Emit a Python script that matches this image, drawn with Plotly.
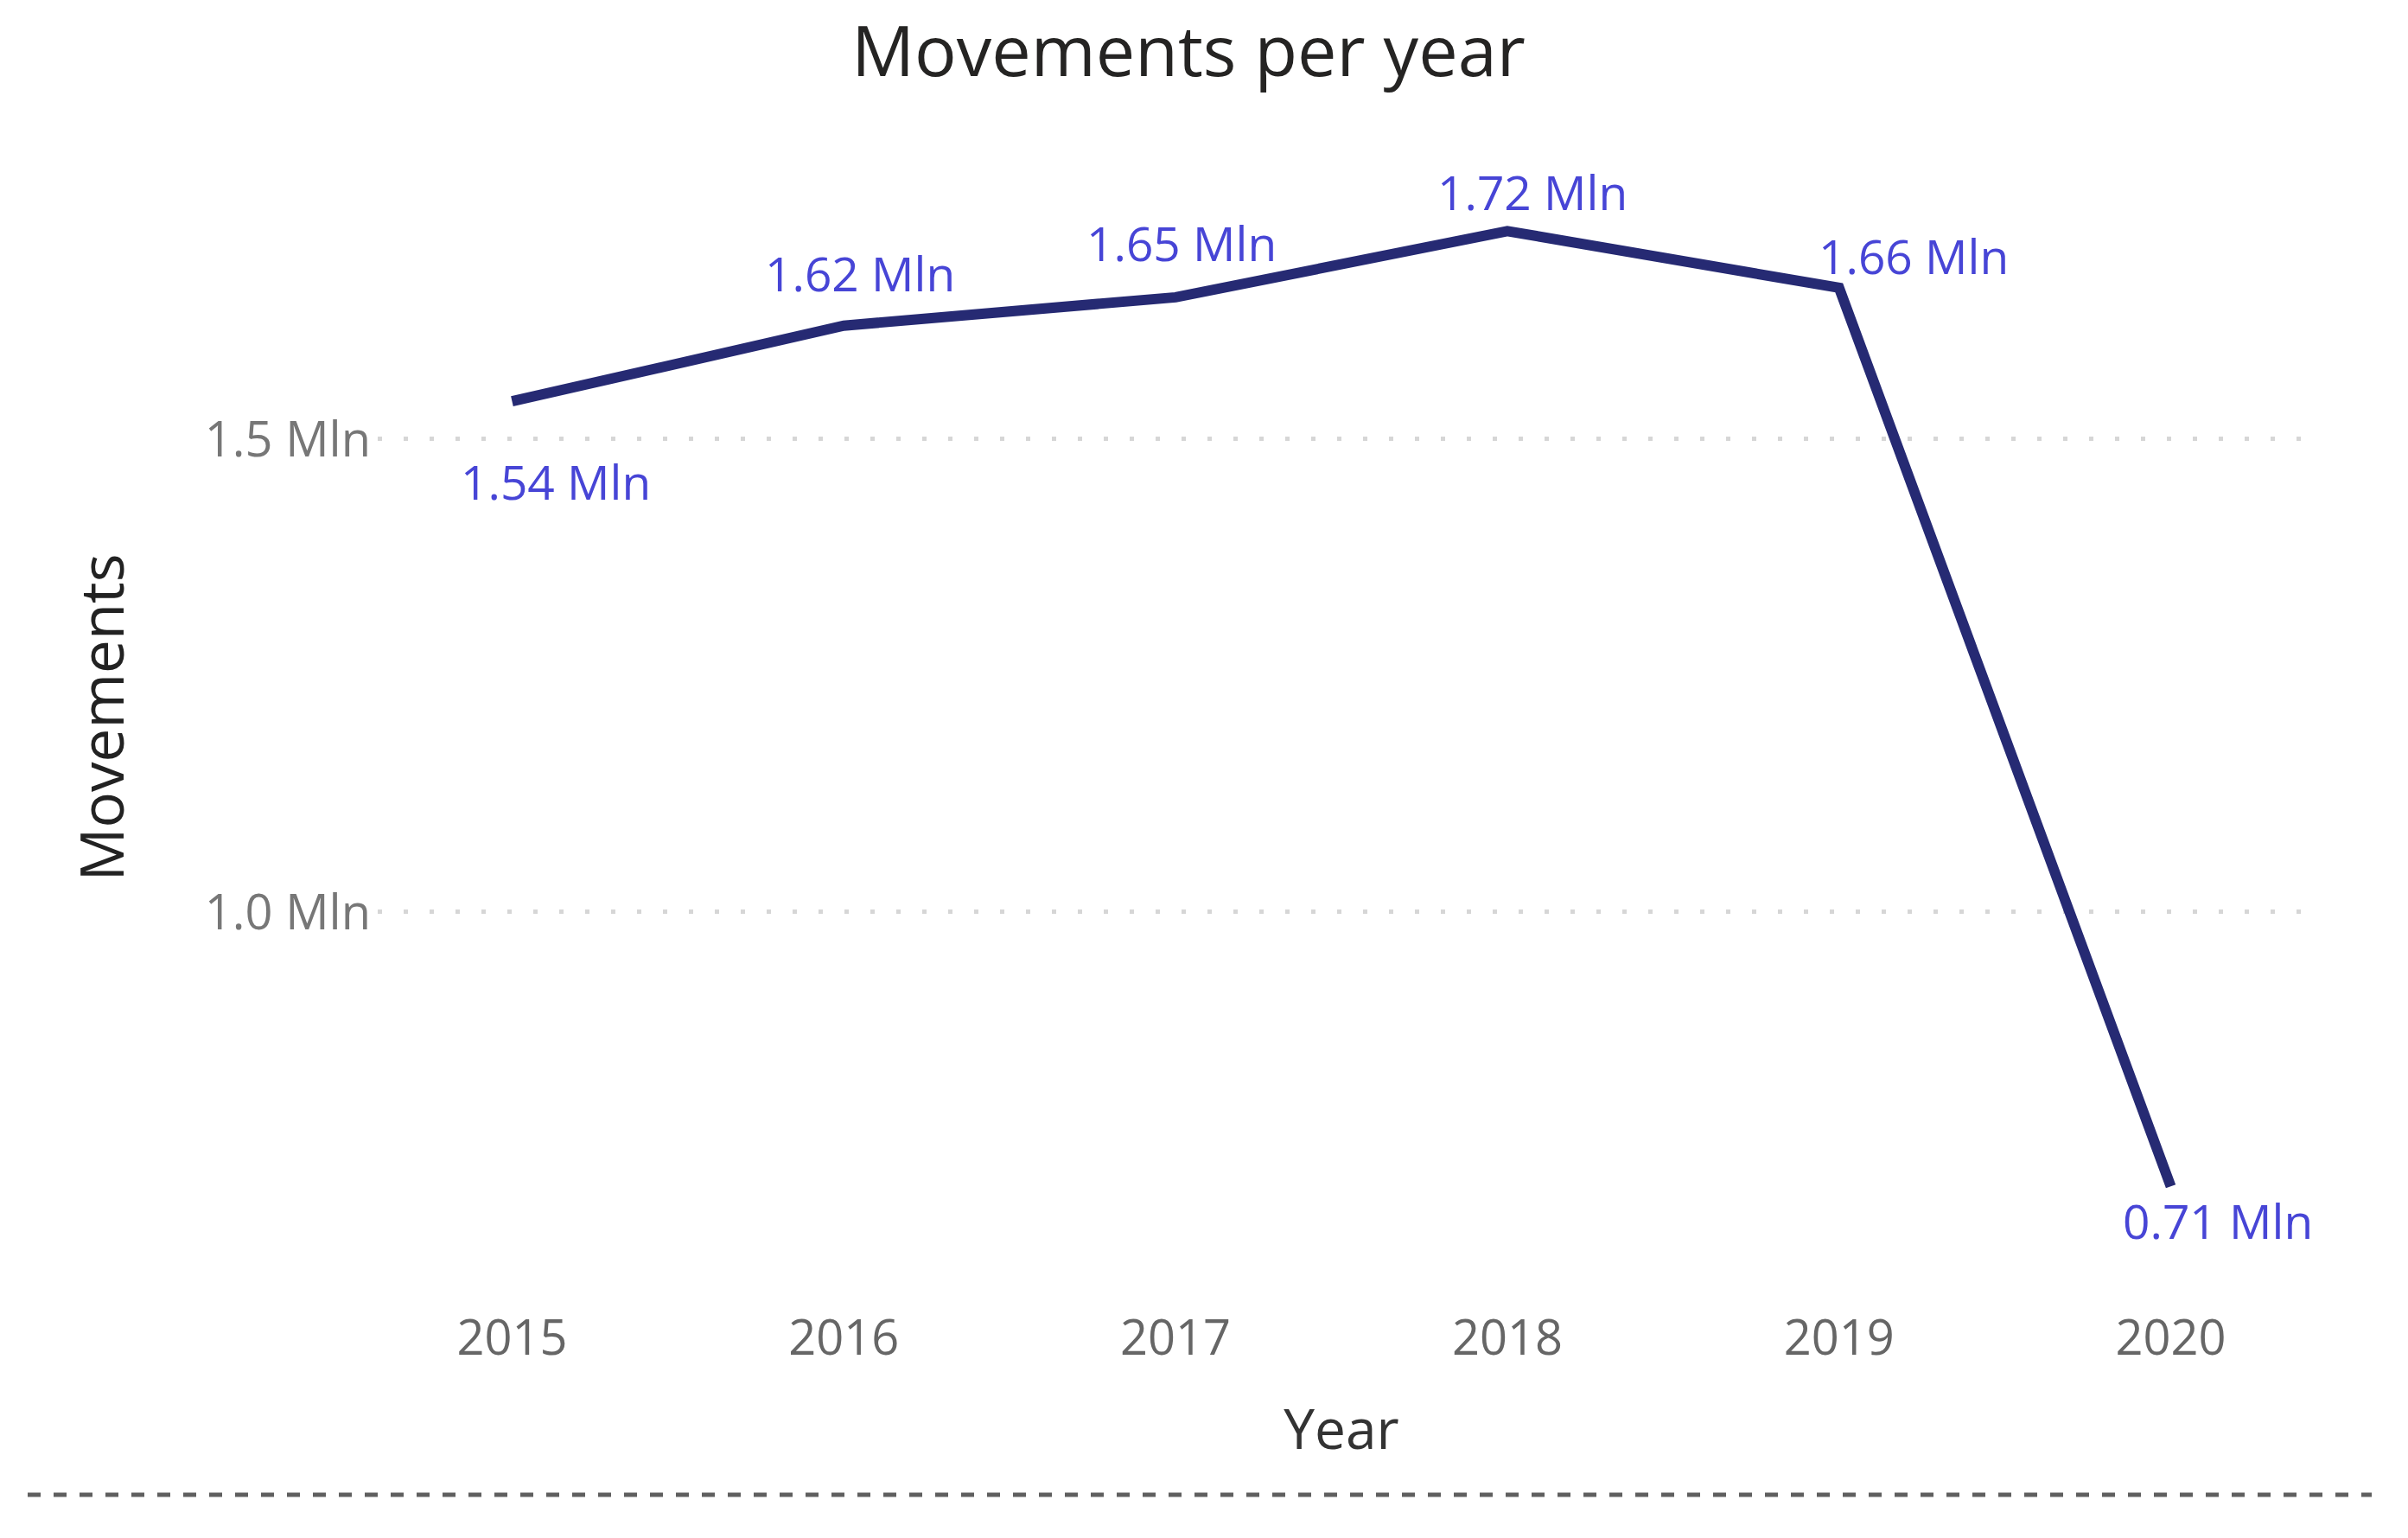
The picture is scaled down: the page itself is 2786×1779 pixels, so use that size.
import plotly.graph_objects as go

years = [2015, 2016, 2017, 2018, 2019, 2020]
movements_mln = [1.54, 1.62, 1.65, 1.72, 1.66, 0.71]
point_labels = ["1.54 Mln", "1.62 Mln", "1.65 Mln", "1.72 Mln", "1.66 Mln", "0.71 Mln"]
x_tick_labels = ["2015", "2016", "2017", "2018", "2019", "2020"]
y_tick_values = [1.0, 1.5]
y_tick_labels = ["1.0 Mln", "1.5 Mln"]

# label offsets in pixels (style, not data)
label_dx = [51, 19, 7, 29, 86, 54]
label_dy = [-92, 61, 63, 46, 37, -39]

# page has an 8px body margin, so the figure is 16px smaller than the window
W, H = 2770, 1763
FONT = "Open Sans"
L, R, T, B = 429, 111, 142, 261
PW, PH = W - L - R, H - T - B

fig = go.Figure()
fig.add_trace(go.Scatter(
    x=years, y=movements_mln, mode="lines",
    line=dict(color="#262A73", width=12),
    hoverinfo="skip", showlegend=False,
))

for x, y, t, dx, dy in zip(years, movements_mln, point_labels, label_dx, label_dy):
    fig.add_annotation(
        x=x, y=y, xref="x", yref="y", text=t, showarrow=False,
        xanchor="center", yanchor="middle", xshift=dx, yshift=dy,
        font=dict(family=FONT, size=55, color="#4745D6"),
    )

# dashed separator line at the bottom of the visual
sep_y = (H - B - (1729 - 8)) / PH
fig.add_shape(
    type="line", xref="paper", yref="paper",
    x0=(24 - L) / PW, x1=(2736 - L) / PW,
    y0=sep_y, y1=sep_y,
    line=dict(color="#5F5F5F", width=5, dash="15px,15px"),
)

fig.update_layout(
    width=W, height=H,
    paper_bgcolor="white", plot_bgcolor="white",
    margin=dict(l=L, r=R, t=T, b=B, autoexpand=False),
    title=dict(
        text="Movements per year", x=1367 / W, xanchor="center", xref="container",
        y=1 - 52 / H, yanchor="middle", yref="container",
        font=dict(family=FONT, size=81, color="#252423"),
    ),
    xaxis=dict(
        range=[2014.595, 2020.405], tickvals=years, ticktext=x_tick_labels,
        showgrid=False, zeroline=False, showline=False, ticks="",
        tickfont=dict(family=FONT, size=56, color="#666666"),
        title=dict(text="Year", font=dict(family=FONT, size=64, color="#333333"), standoff=49),
    ),
    yaxis=dict(
        range=[0.5841, 1.8272], tickvals=y_tick_values, ticktext=y_tick_labels,
        showgrid=True, gridcolor="#D6D6D6", gridwidth=5, griddash="5px,25px",
        zeroline=False, showline=False, ticks="", ticklabelstandoff=7,
        tickfont=dict(family=FONT, size=56, color="#777777"),
        title=dict(text="Movements", font=dict(family=FONT, size=69, color="#222222"), standoff=70),
    ),
)

fig.write_html("out.html")
